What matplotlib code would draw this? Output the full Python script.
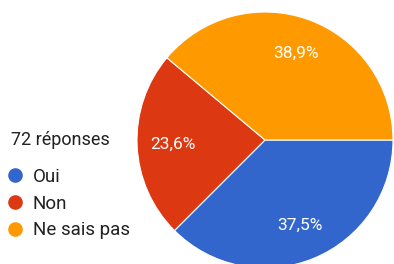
import matplotlib
matplotlib.use("Agg")
import matplotlib.pyplot as plt
from matplotlib.lines import Line2D

labels = ["Oui", "Non", "Ne sais pas"]
values = [37.5, 23.6, 38.9]
colors = ["#3366cc", "#dc3912", "#ff9900"]
total_label = "72 réponses"

plt.rcParams["font.family"] = ["Roboto", "DejaVu Sans"]

W, H = 394, 264
fig = plt.figure(figsize=(W / 100, H / 100), dpi=100)
fig.patch.set_facecolor("white")

# pie axes: centre (265,140) px, radius 128 px
cx, cy, r = 265, 140, 128
ax = fig.add_axes([(cx - r) / W, (H - cy - r) / H, 2 * r / W, 2 * r / H])
wedges, _, autotexts = ax.pie(values, colors=colors, startangle=0, counterclock=False,
                              autopct=lambda p: ("%.1f%%" % p).replace(".", ","),
                              pctdistance=0.72,
                              wedgeprops=dict(edgecolor="white", linewidth=0.8),
                              textprops=dict(color="white", fontsize=12.5))
ax.set_xlim(-1, 1)
ax.set_ylim(-1, 1)
ax.axis("off")

fig.text(11 / W, 1 - 140 / H, total_label, fontsize=13, color="#212121", va="center", ha="left")

handles = [Line2D([], [], marker="o", linestyle="none", markersize=9.5,
                  markerfacecolor=c, markeredgecolor=c) for c in colors]
leg = fig.legend(handles, labels, loc="upper left", bbox_to_anchor=(5.6 / W, 1 - 168 / H),
                 frameon=False, fontsize=13.5, handlelength=1.0, handletextpad=0.46,
                 labelspacing=0.46, borderpad=0, borderaxespad=0)
for t in leg.get_texts():
    t.set_color("#212121")

fig.savefig("out.png", dpi=100, facecolor="white")
